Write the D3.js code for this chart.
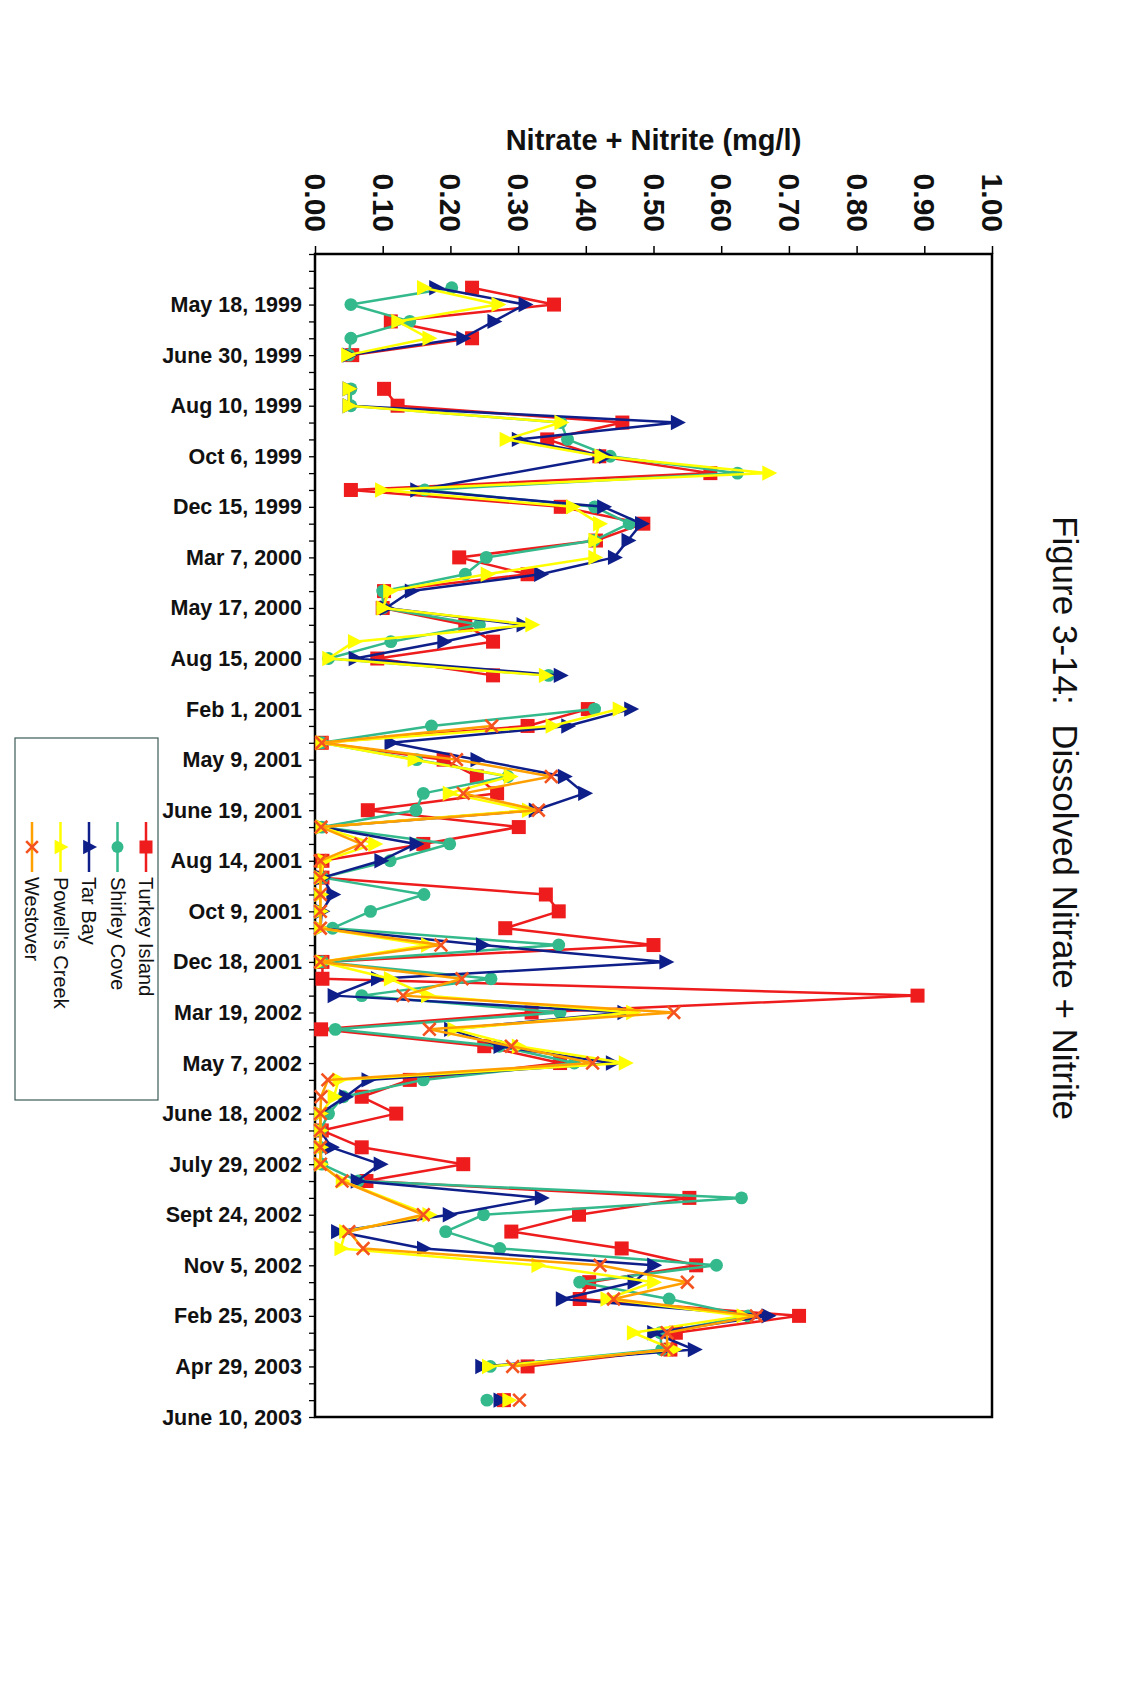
<!DOCTYPE html>
<html><head><meta charset="utf-8">
<script src="https://cdn.jsdelivr.net/npm/d3@7"></script>
<style>
html,body{margin:0;padding:0;background:#fff;}
svg{display:block;font-family:"Liberation Sans",Arial,Helvetica,sans-serif;}
</style></head><body>
<svg id="chart" width="1148" height="1694"></svg>
<script>
// ---------- DATA ----------
const NA = "NA"; // #N/A in the sheet: line connects across it; null = gap
const valueTicks = [0, 0.1, 0.2, 0.3, 0.4, 0.5, 0.6, 0.7, 0.8, 0.9, 1.0];
const categoryCount = 70;
const categoryLabels = ["May 18, 1999","June 30, 1999","Aug 10, 1999","Oct 6, 1999","Dec 15, 1999",
  "Mar 7, 2000","May 17, 2000","Aug 15, 2000","Feb 1, 2001","May 9, 2001","June 19, 2001",
  "Aug 14, 2001","Oct 9, 2001","Dec 18, 2001","Mar 19, 2002","May 7, 2002","June 18, 2002",
  "July 29, 2002","Sept 24, 2002","Nov 5, 2002","Feb 25, 2003","Apr 29, 2003","June 10, 2003"];
const labelStep = 3;
const seriesNames = ["Turkey Island","Shirley Cove","Tar Bay","Powell's Creek","Westover"];

const turkeyIsland = [null,null,0.232,0.353,0.112,0.232,0.055,null,0.102,0.122,
  0.454,0.343,0.42,0.584,0.053,0.363,0.485,0.415,0.213,0.314,
  0.102,0.10,0.222,0.263,0.092,0.263,null,0.403,0.314,0.01,
  0.19,0.239,0.269,0.078,0.301,0.16,0.011,0.011,0.341,0.36,
  0.281,0.50,0.011,0.011,0.89,0.32,0.009,0.25,0.362,0.14,
  0.069,0.12,0.01,0.069,0.219,0.076,0.553,0.39,0.29,0.453,
  0.563,0.405,0.391,0.715,0.533,0.525,0.314,null,0.279,null];
const shirleyCove = [null,null,0.202,0.053,0.14,0.053,0.05,null,0.053,0.053,
  0.363,0.373,0.436,0.624,0.162,0.413,0.464,0.412,0.253,0.222,
  0.10,0.10,0.243,0.112,0.02,0.345,null,0.413,0.172,0.01,
  0.15,0.285,0.16,0.149,0.01,0.199,0.111,0.011,0.161,0.082,
  0.026,0.36,0.011,0.26,0.069,0.362,0.03,0.272,0.383,0.16,
  0.042,0.02,0.008,0.008,0.01,0.064,0.63,0.249,0.193,0.273,
  0.593,0.391,0.523,0.64,0.51,0.512,0.259,null,0.254,null];
const tarBay = [null,null,0.178,0.31,0.264,0.218,0.05,null,0.05,0.05,
  0.535,0.30,0.429,NA,0.15,0.426,0.482,0.462,0.442,0.333,
  0.142,0.105,0.307,0.19,0.059,0.362,null,0.466,0.373,0.112,
  0.239,0.368,0.398,0.325,0.01,0.149,0.097,0.011,0.026,0.01,
  0.008,0.247,0.518,0.092,0.028,0.456,0.2,0.273,0.439,0.078,
  0.045,0.008,0.008,0.024,0.096,0.062,0.334,0.198,0.033,0.16,
  0.50,0.471,0.365,0.669,0.50,0.56,0.246,null,0.273,null];
const powellsCreek = [null,null,0.16,0.27,0.122,0.168,0.048,null,0.05,0.05,
  0.363,0.282,0.422,0.67,0.098,0.38,0.42,0.413,0.413,0.254,
  0.11,0.10,0.32,0.058,0.02,0.34,null,0.449,0.35,0.01,
  0.146,0.288,0.198,0.315,0.01,0.088,0.013,0.008,0.008,0.008,
  0.008,0.166,0.01,0.111,0.166,0.469,0.205,0.30,0.458,0.035,
  0.028,0.008,0.008,0.008,0.008,0.04,NA,0.168,0.045,0.038,
  0.329,0.50,0.431,0.632,0.47,0.53,0.256,null,0.286,null];
const westover = [null,null,null,null,null,null,null,null,null,null,
  null,null,null,null,null,null,null,null,null,null,
  null,null,null,null,null,null,null,null,0.261,0.01,
  0.209,0.349,0.219,0.33,0.009,0.068,0.008,0.008,0.008,0.008,
  0.008,0.186,0.008,0.217,0.13,0.53,0.169,0.29,0.41,0.019,
  0.009,0.008,0.008,0.008,0.008,0.04,NA,0.16,0.05,0.071,
  0.421,0.55,0.441,0.652,0.52,0.52,0.292,null,0.302,null];

const seriesValues = [turkeyIsland, shirleyCove, tarBay, powellsCreek, westover];
const lineColors = ["#ee1c1c","#33b98c","#0f1f8a","#ffff00","#ffa000"];
const markerColors = ["#ee1c1c","#33b98c","#0f1f8a","#ffff00","#f4521e"];
const markerTypes = ["square","circle","triangle","triangle","x"];

// ---------- LAYOUT ----------
const svg = d3.select("#chart");
const plot = {left: 315, right: 992, top: 254, bottom: 1417};

const x = d3.scaleLinear().domain([0, 1]).range([plot.left, plot.right]);
const y = d3.scalePoint().domain(d3.range(categoryCount)).range([plot.top, plot.bottom]);

const labelByIndex = new Map(categoryLabels.map((l, k) => [(k + 1) * labelStep, l]));

// plot area
svg.append("rect").attr("x", plot.left).attr("y", plot.top)
  .attr("width", plot.right - plot.left).attr("height", plot.bottom - plot.top)
  .attr("fill", "#fff").attr("stroke", "#000").attr("stroke-width", 2.5);

// value axis (top)
const xAxis = svg.append("g").attr("transform", `translate(0,${plot.top})`)
  .call(d3.axisTop(x).tickValues(valueTicks).tickFormat(d3.format(".2f")).tickSize(8).tickPadding(0));
xAxis.select(".domain").remove();
xAxis.selectAll(".tick line").attr("stroke", "#000").attr("stroke-width", 1.5);
xAxis.selectAll(".tick text")
  .attr("x", 0).attr("y", 0).attr("dy", null)
  .attr("transform", "translate(0,-22) rotate(90)")
  .attr("text-anchor", "end").attr("dominant-baseline", "central")
  .attr("font-size", 30).attr("font-weight", "bold").attr("fill", "#111")
  .attr("font-family", "Liberation Sans, Arial, sans-serif");

// category axis (left)
const yAxis = svg.append("g").attr("transform", `translate(${plot.left},0)`)
  .call(d3.axisLeft(y).tickSize(6).tickPadding(7).tickFormat(i => labelByIndex.get(i) || ""));
yAxis.select(".domain").remove();
yAxis.selectAll(".tick line").attr("stroke", "#000").attr("stroke-width", 1.3);
yAxis.selectAll(".tick text")
  .attr("dy", null).attr("dominant-baseline", "central")
  .attr("font-size", 21.5).attr("font-weight", "bold").attr("fill", "#111")
  .attr("font-family", "Liberation Sans, Arial, sans-serif");

// axis title
svg.append("text").attr("x", (plot.left + plot.right) / 2).attr("y", 150)
  .attr("text-anchor", "middle").attr("font-size", 29).attr("font-weight", "bold").attr("fill", "#111")
  .text("Nitrate + Nitrite (mg/l)");

// chart title (rotated)
svg.append("text").attr("transform", "translate(1065,516) rotate(90)")
  .attr("text-anchor", "start").attr("dominant-baseline", "central")
  .attr("font-size", 35).attr("fill", "#111").style("white-space", "pre")
  .text("Figure 3-14:  Dissolved Nitrate + Nitrite");

// ---------- MARKERS ----------
function drawMarker(g, type, color, size) {
  const s = size;
  if (type === "square") {
    g.append("rect").attr("x", -s * 0.5).attr("y", -s * 0.5).attr("width", s).attr("height", s)
      .attr("fill", color);
  } else if (type === "circle") {
    g.append("circle").attr("r", s * 0.46).attr("fill", color);
  } else if (type === "triangle") {
    g.append("path").attr("d", `M${-s*0.45},${-s*0.55}L${s*0.62},0L${-s*0.45},${s*0.55}Z`).attr("fill", color);
  } else if (type === "x") {
    const h = s * 0.45;
    g.append("path").attr("d", `M${-h},${-h}L${h},${h}M${-h},${h}L${h},${-h}`)
      .attr("stroke", color).attr("stroke-width", 2.6).attr("fill", "none");
  }
}

// ---------- SERIES ----------
const line = d3.line()
  .defined(d => d.v !== null)
  .x(d => x(d.v)).y(d => y(d.i));

seriesValues.forEach((vals, s) => {
  const pts = vals.map((v, i) => ({i, v})).filter(d => d.v !== NA);
  const g = svg.append("g");
  g.append("path").datum(pts).attr("d", line)
    .attr("fill", "none").attr("stroke", lineColors[s]).attr("stroke-width", 2.5)
    .attr("stroke-linejoin", "round");
  pts.filter(d => d.v !== null).forEach(d => {
    const mg = g.append("g").attr("transform", `translate(${x(d.v)},${y(d.i)})`);
    drawMarker(mg, markerTypes[s], markerColors[s], 14);
  });
});

// ---------- LEGEND ----------
const legend = svg.append("g");
legend.append("rect").attr("x", 15).attr("y", 738).attr("width", 143).attr("height", 362)
  .attr("fill", "#fff").attr("stroke", "#3d5a55").attr("stroke-width", 1.2);
seriesNames.forEach((name, s) => {
  const cx = 146 - s * 28.5;
  const lg = legend.append("g");
  lg.append("line").attr("x1", cx).attr("x2", cx).attr("y1", 822).attr("y2", 872)
    .attr("stroke", lineColors[s]).attr("stroke-width", 2.5);
  const mg = lg.append("g").attr("transform", `translate(${cx},847)`);
  drawMarker(mg, markerTypes[s], markerColors[s], 13);
  lg.append("text").attr("transform", `translate(${cx},877) rotate(90)`)
    .attr("text-anchor", "start").attr("dominant-baseline", "central")
    .attr("font-size", 20).attr("fill", "#111").text(name);
});
</script>
</body></html>
